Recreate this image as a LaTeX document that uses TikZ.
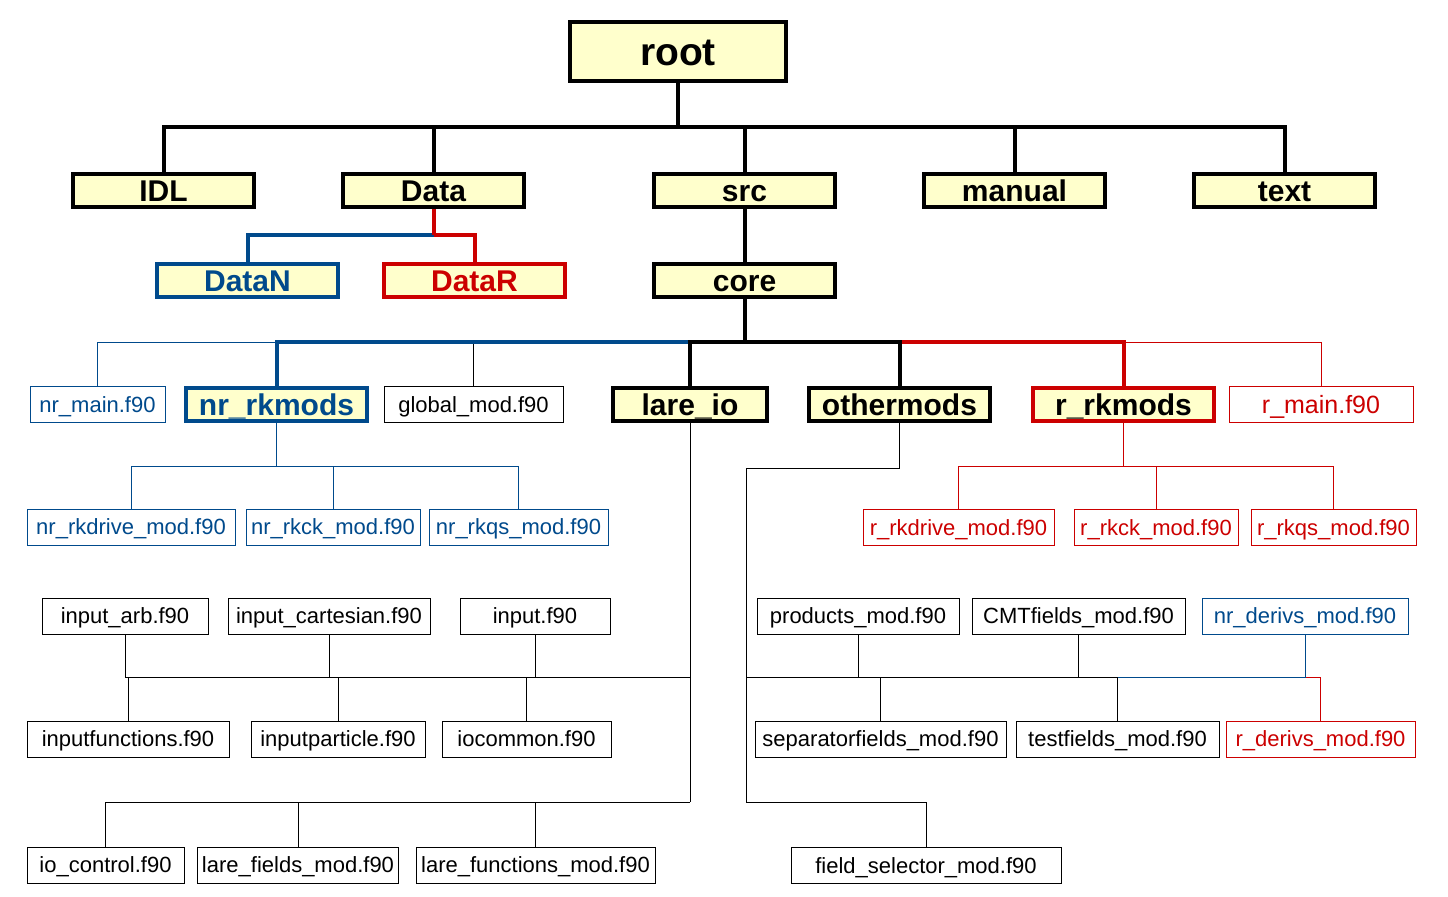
\documentclass[tikz,border=0pt]{standalone}
\usepackage{fontspec}
\setmainfont{Liberation Sans}
\usepackage{xcolor}
\usepackage{tikz}
\usetikzlibrary{positioning}
\definecolor{boxyellow}{RGB}{255,255,204}
\definecolor{nrblue}{RGB}{0,74,140}
\definecolor{rred}{RGB}{204,0,0}
\tikzset{
    folder/.style={
        rectangle,
        draw=black,
        line width=2pt,
        minimum width=90.5pt,
        minimum height=16.5pt,
        inner sep=0pt,
        text height=10.8pt,
        text depth=0pt,
        fill=boxyellow,
        font=\fontsize{15}{15}\selectfont\bfseries
    },
    srcfile/.style={
        rectangle,
        draw=black,
        line width=0.5pt,
        minimum height=18pt,
        inner sep=0pt,
        text height=7.9pt,
        text depth=0pt,
        fill=white,
        font=\fontsize{11}{11}\selectfont
    },
    trunk/.style={
        draw=black,
        line width=2pt
    },
    branch/.style={
        draw=black,
        line width=0.5pt
    }
}
\begin{document}
\begin{tikzpicture}[x=0.5pt, y=-0.5pt]
\useasboundingbox (0,0) rectangle (1448,896);

% Top level
\node[folder, minimum width=108pt, minimum height=29.5pt, text height=14pt, font=\fontsize{19.5}{20}\selectfont\bfseries] (root) at (678,51.5) {root};
\node[folder] (idl) at (163.5,190.5) {IDL};
\node[folder] (data) at (433.5,190.5) {Data};
\node[folder] (src) at (744.5,190.5) {src};
\node[folder] (manual) at (1014.5,190.5) {manual};
\node[folder] (txt) at (1284.5,190.5) {text};

\coordinate (jroot) at (678,127);
\draw[trunk] (root) -- (jroot);
\foreach \n in {idl,data,src,manual,txt}
    \draw[trunk] (\n) |- (jroot);

% Data and core
\node[folder, draw=nrblue, text=nrblue] (datan) at (247.5,280.5) {DataN};
\node[folder, draw=rred, text=rred] (datar) at (474.5,280.5) {DataR};
\node[folder] (core) at (744.5,280.5) {core};

\coordinate (jdata) at (433.5,235);
\draw[trunk, draw=nrblue] (datan) |- (jdata);
\draw[trunk, draw=rred] (datar) |- (jdata);
\draw[trunk, draw=rred] (data) -- (jdata);
\draw[trunk] (src) -- (core);

% Below core
\node[srcfile, draw=nrblue, text=nrblue, minimum width=67.5pt] (nrmain) at (97.5,404.5) {nr\_main.f90};
\node[folder, draw=nrblue, text=nrblue] (nrrk) at (276.5,404.5) {nr\_rkmods};
\node[srcfile, minimum width=89.5pt] (global) at (473.5,404.5) {global\_mod.f90};
\node[folder, minimum width=77pt] (lareio) at (690,404.5) {lare\_io};
\node[folder] (other) at (899.5,404.5) {othermods};
\node[folder, draw=rred] (rrk) at (1123.5,404.5) {r\_rkmods};
\node[srcfile, draw=rred, text=rred, minimum width=92pt, text height=9pt, font=\fontsize{12.5}{12.5}\selectfont] (rmain) at (1321,404.5) {r\_main.f90};

\coordinate (jcore) at (744.5,342);
\draw[branch, draw=nrblue] (nrmain) |- (jcore);
\draw[branch] (global) |- (jcore);
\draw[branch, draw=rred] (rmain) |- (jcore);
\draw[trunk, draw=nrblue] (nrrk) |- (jcore);
\draw[trunk, draw=rred] (rrk) |- (jcore);
\draw[trunk] (core) -- (jcore);
\draw[trunk] (lareio) |- (jcore);
\draw[trunk] (other) |- (jcore);

% nr_rkmods files
\node[srcfile, draw=nrblue, text=nrblue, minimum width=104pt] (nrdrive) at (131,527) {nr\_rkdrive\_mod.f90};
\node[srcfile, draw=nrblue, text=nrblue, minimum width=87pt] (nrck) at (333,527) {nr\_rkck\_mod.f90};
\node[srcfile, draw=nrblue, text=nrblue, minimum width=89.5pt] (nrqs) at (518.5,527) {nr\_rkqs\_mod.f90};

\coordinate (jnr) at (276.5,466);
\draw[branch, draw=nrblue] (nrrk) -- (jnr);
\foreach \n in {nrdrive,nrck,nrqs}
    \draw[branch, draw=nrblue] (\n) |- (jnr);

% r_rkmods files
\node[srcfile, draw=rred, text=rred, minimum width=95.5pt] (rdrive) at (958.5,527.5) {r\_rkdrive\_mod.f90};
\node[srcfile, draw=rred, text=rred, minimum width=82pt] (rck) at (1156,527.5) {r\_rkck\_mod.f90};
\node[srcfile, draw=rred, text=rred, minimum width=82.5pt] (rqs) at (1333.5,527.5) {r\_rkqs\_mod.f90};

\coordinate (jr) at (1123.5,466);
\draw[branch, draw=rred] (rrk) -- (jr);
\foreach \n in {rdrive,rck,rqs}
    \draw[branch, draw=rred] (\n) |- (jr);

% lare_io files
\node[srcfile, minimum width=83pt] (inarb) at (125,616) {input\_arb.f90};
\node[srcfile, minimum width=101pt] (incart) at (329,616) {input\_cartesian.f90};
\node[srcfile, minimum width=75pt] (inp) at (535,616) {input.f90};
\node[srcfile, minimum width=101pt] (infun) at (128,739) {inputfunctions.f90};
\node[srcfile, minimum width=87pt] (inpart) at (338,739) {inputparticle.f90};
\node[srcfile, minimum width=84.5pt] (iocom) at (526.5,739) {iocommon.f90};
\node[srcfile, minimum width=78.5pt] (ioctl) at (105.5,865) {io\_control.f90};
\node[srcfile, minimum width=100.5pt] (larefld) at (298,865) {lare\_fields\_mod.f90};
\node[srcfile, minimum width=119.5pt] (larefun) at (535.5,865) {lare\_functions\_mod.f90};

\coordinate (jin) at (690,677);
\coordinate (jio) at (690,802);
\draw[branch] (lareio) -- (jio);
\foreach \n in {inarb,incart,inp,infun,inpart,iocom}
    \draw[branch] (\n) |- (jin);
\foreach \n in {ioctl,larefld,larefun}
    \draw[branch] (\n) |- (jio);

% othermods files
\node[srcfile, minimum width=101pt] (prod) at (858,616) {products\_mod.f90};
\node[srcfile, minimum width=106.5pt] (cmt) at (1078.5,616) {CMTfields\_mod.f90};
\node[srcfile, draw=nrblue, text=nrblue, minimum width=103pt] (nrderivs) at (1305,616) {nr\_derivs\_mod.f90};
\node[srcfile, minimum width=125.5pt] (sepf) at (880.5,739) {separatorfields\_mod.f90};
\node[srcfile, minimum width=101.5pt] (testf) at (1117.5,739) {testfields\_mod.f90};
\node[srcfile, draw=rred, text=rred, minimum width=94.5pt] (rderivs) at (1320.5,739) {r\_derivs\_mod.f90};
\node[srcfile, minimum width=135pt] (fsel) at (926,865.5) {field\_selector\_mod.f90};

\coordinate (jom) at (746,468);
\coordinate (jmid) at (746,677);
\coordinate (jsel) at (746,802);
\draw[branch] (other) |- (jom);
\draw[branch] (jom) -- (jsel);
\draw[branch] (fsel) |- (jsel);
\draw[branch, draw=rred] (rderivs) |- (jmid);
\draw[branch, draw=nrblue] (nrderivs) |- (jmid);
\foreach \n in {prod,cmt,sepf,testf}
    \draw[branch] (\n) |- (jmid);

\end{tikzpicture}
\end{document}
